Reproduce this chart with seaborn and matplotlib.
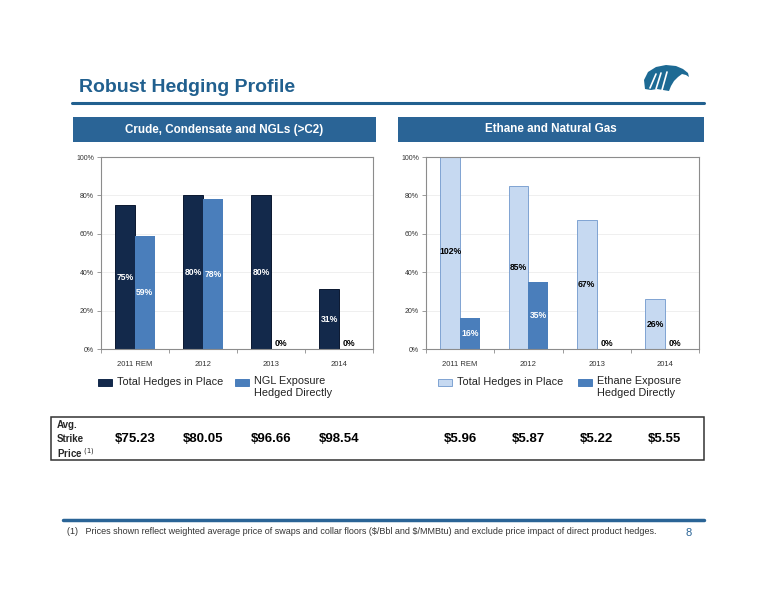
import pandas as pd
import matplotlib
matplotlib.use('Agg')
import matplotlib.pyplot as plt
import matplotlib.transforms as mtransforms
from matplotlib.patches import Rectangle, Polygon
from matplotlib.lines import Line2D
import seaborn as sns

# ---- data ----
years = ['2011 REM', '2012', '2013', '2014']
crude_total = [75, 80, 80, 31]
ngl_direct = [59, 78, 0, 0]
ethane_total = [102, 85, 67, 26]
ethane_direct = [16, 35, 0, 0]
crude_prices = ['$75.23', '$80.05', '$96.66', '$98.54']
gas_prices = ['$5.96', '$5.87', '$5.22', '$5.55']

W, H = 776, 600
BLUE = '#21608f'
NAVY = '#13294b'
MID = '#4a7ebb'
LIGHT = '#c6d9f1'
LIGHT_EDGE = '#7fa3d2'


def fx(px):
    return px / W


def fy(py):
    return 1 - py / H


sns.set_theme(style='white')
plt.rcParams['font.family'] = ['Liberation Sans', 'DejaVu Sans']

fig = plt.figure(figsize=(7.76, 6), dpi=100)


def panel(ax, total, direct, names, pal, edges, txt_cols):
    df = pd.DataFrame({'year': years * 2,
                       'value': total + direct,
                       'series': [names[0]] * 4 + [names[1]] * 4})
    sns.barplot(data=df, x='year', y='value', hue='series', palette=pal,
                width=0.58, saturation=1, legend=False, ax=ax)
    for cont, ec, tc in zip(ax.containers, edges, txt_cols):
        for bar in cont:
            if ec is not None:
                bar.set_edgecolor(ec)
                bar.set_linewidth(0.7)
            else:
                bar.set_linewidth(0)
            h = bar.get_height()
            x = bar.get_x() + bar.get_width() / 2
            if h == 0:
                ax.text(x, 3, '0%', ha='center', va='center', fontsize=6.2,
                        fontweight='bold', color='black')
            else:
                ax.text(x, h / 2, f'{h:.0f}%', ha='center', va='center',
                        fontsize=6.2, fontweight='bold', color=tc)
    ax.set_ylim(0, 100)
    ax.set_yticks(range(0, 101, 20))
    ax.set_yticklabels([f'{v}%' for v in range(0, 101, 20)])
    ax.set_xticks([-0.5, 0.5, 1.5, 2.5, 3.5], minor=True)
    ax.set_xlabel('')
    ax.set_ylabel('')
    for v in [20, 40, 60, 80]:
        ax.axhline(v, color='#ececec', lw=0.6, zorder=0)
    for s in ax.spines.values():
        s.set_color('#8c8c8c')
        s.set_linewidth(0.8)
    ax.tick_params(axis='y', which='major', left=True, length=3, width=0.6,
                   color='#8c8c8c', labelsize=5, labelcolor='#333333', pad=2)
    ax.tick_params(axis='x', which='major', bottom=False, labelsize=5.5,
                   labelcolor='#333333', pad=3)
    ax.tick_params(axis='x', which='minor', bottom=True, length=3, width=0.6,
                   color='#8c8c8c')


ax1 = fig.add_axes([fx(101), fy(349), (373 - 101) / W, (349 - 157) / H])
panel(ax1, crude_total, ngl_direct, ['Total', 'NGL'], [NAVY, MID],
      ['#0b1830', None], ['white', 'white'])

ax2 = fig.add_axes([fx(426), fy(349), (699 - 426) / W, (349 - 157) / H])
panel(ax2, ethane_total, ethane_direct, ['Total', 'Ethane'], [LIGHT, MID],
      [LIGHT_EDGE, None], ['black', 'white'])

# ---- title & headers ----
fig.text(fx(79), fy(92), 'Robust Hedging Profile', fontsize=14,
         fontweight='bold', color=BLUE, va='baseline', ha='left')
fig.add_artist(Line2D([fx(72), fx(704)], [fy(103), fy(103)], color=BLUE, lw=2.2))

for x0, x1, label in [(73, 376, 'Crude, Condensate and NGLs (>C2)'),
                      (398, 704, 'Ethane and Natural Gas')]:
    fig.add_artist(Rectangle((fx(x0), fy(142)), (x1 - x0) / W, 25 / H,
                             transform=fig.transFigure, color='#2a6496', lw=0))
    fig.text(fx((x0 + x1) / 2), fy(129.5), label, ha='center', va='center',
             fontsize=8.4, fontweight='bold', color='white')

# eagle logo (rough)
eagle = [(645, 89), (644, 80), (648, 72), (656, 67), (666, 65), (676, 66),
         (683, 69), (688, 73), (689, 77), (686, 75), (682, 74), (678, 77),
         (674, 81), (671, 86), (669, 91), (663, 90), (657, 89), (651, 90)]
fig.add_artist(Polygon([(fx(a), fy(b)) for a, b in eagle], closed=True,
                       transform=fig.transFigure, color='#1d6a94', lw=0))
for a0, b0, a1, b1 in [(650, 88, 656, 74), (656, 89, 661, 73), (662, 90, 667, 72)]:
    fig.add_artist(Line2D([fx(a0), fx(a1)], [fy(b0), fy(b1)], color='white', lw=1.2))

# ---- legends ----
legend_items = [(98, NAVY, None, 'Total Hedges in Place'),
                (235, MID, None, 'NGL Exposure\nHedged Directly'),
                (438, LIGHT, LIGHT_EDGE, 'Total Hedges in Place'),
                (578, MID, None, 'Ethane Exposure\nHedged Directly')]
for x0, fc, ec, label in legend_items:
    fig.add_artist(Rectangle((fx(x0), fy(386)), 14 / W, 7 / H,
                             transform=fig.transFigure, facecolor=fc,
                             edgecolor=ec if ec else fc, lw=0.7))
    if '\n' in label:
        fig.text(fx(x0 + 19), fy(376), label, ha='left', va='top',
                 fontsize=7.8, color='#222222', linespacing=1.25)
    else:
        fig.text(fx(x0 + 19), fy(382), label, ha='left', va='center',
                 fontsize=7.8, color='#222222')

# ---- strike price box ----
fig.add_artist(Rectangle((fx(51), fy(460)), (704 - 51) / W, (460 - 417) / H,
                         transform=fig.transFigure, fill=False,
                         edgecolor='#333333', lw=1.1))
fig.text(fx(57), fy(425), 'Avg.', fontsize=7, fontweight='bold', va='center')
fig.text(fx(57), fy(439), 'Strike', fontsize=7, fontweight='bold', va='center')
fig.text(fx(57), fy(453), 'Price $^{(1)}$', fontsize=7, fontweight='bold', va='center')

for ax, prices in [(ax1, crude_prices), (ax2, gas_prices)]:
    tr = mtransforms.blended_transform_factory(ax.transData, fig.transFigure)
    for i, p in enumerate(prices):
        ax.text(i, fy(439), p, transform=tr, ha='center', va='center',
                fontsize=9.5, fontweight='bold', color='black', clip_on=False)

# ---- footnote ----
fig.add_artist(Line2D([fx(63), fx(704)], [fy(520), fy(520)], color='#2a6496', lw=2.5))
fig.text(fx(67), fy(532), r'(1)   Prices shown reflect weighted average price of swaps and collar '
         r'floors (\$/Bbl and \$/MMBtu) and exclude price impact of direct product hedges.',
         fontsize=6.5, color='#333333', va='center')
fig.text(fx(685), fy(533), '8', fontsize=8, color='#2a6496', va='center')

fig.savefig('out.png', dpi=100)
